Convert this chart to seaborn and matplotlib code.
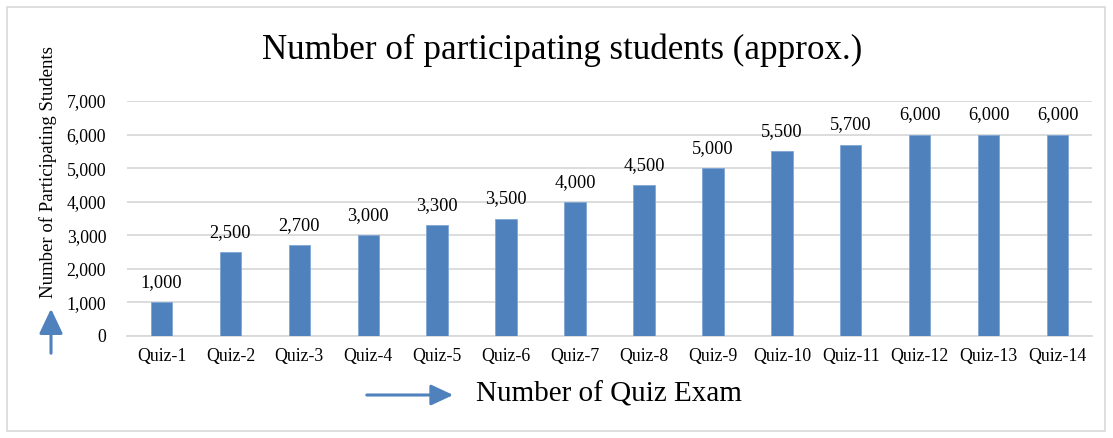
import matplotlib
matplotlib.use("Agg")
import matplotlib.pyplot as plt
import matplotlib.patches as mpatches
import seaborn as sns
import pandas as pd

quizzes = [f"Quiz-{i}" for i in range(1, 15)]
students = [1000, 2500, 2700, 3000, 3300, 3500, 4000, 4500, 5000, 5500, 5700, 6000, 6000, 6000]
yticks = [0, 1000, 2000, 3000, 4000, 5000, 6000, 7000]

title = "Number of participating students (approx.)"
ylabel = "Number of Participating Students"
xlabel = "Number of Quiz Exam"

sns.set_theme(style="white")
plt.rcParams['font.family'] = ['Liberation Serif', 'DejaVu Serif']
plt.rcParams['text.color'] = 'black'
plt.rcParams['xtick.color'] = 'black'
plt.rcParams['ytick.color'] = 'black'

BLUE = "#4F81BD"
GRID = "#D9D9D9"

fig = plt.figure(figsize=(11.13, 4.38), dpi=100)
ax = fig.add_axes([127/1113, 1-336/438, (1092-127)/1113, (336-101)/438])

df = pd.DataFrame({"quiz": quizzes, "students": students})
sns.barplot(data=df, x="quiz", y="students", color=BLUE, saturation=1, width=0.31,
            ax=ax, zorder=3, edgecolor="#7FA6D6", linewidth=0.6)

ax.set_ylim(0, 7000)
ax.set_xlim(-0.5, len(quizzes)-0.5)
ax.set_yticks(yticks)
ax.set_yticklabels([f"{v:,}" for v in yticks], fontsize=12.8)
ax.tick_params(axis='y', length=0, pad=15)
ax.tick_params(axis='x', length=0, pad=9, labelsize=12.8)
ax.set_xlabel("")
ax.set_ylabel("")
ax.grid(axis='y', color=GRID, linewidth=1.3, zorder=0)
ax.grid(axis='x', visible=False)
for s in ["top", "right", "left"]:
    ax.spines[s].set_visible(False)
ax.spines["bottom"].set_color(GRID)
ax.spines["bottom"].set_linewidth(1.3)

for cont in ax.containers:
    ax.bar_label(cont, labels=[f"{v:,}" for v in students], padding=8, fontsize=13.2)

fig.text(562/1113, 1-50/438, title, ha='center', va='center', fontsize=25.2)
fig.text(48/1113, 1-172/438, ylabel, rotation=90, ha='center', va='center', fontsize=13.5)
fig.text(476/1113, 1-395/438, xlabel, ha='left', va='center', fontsize=21)

# arrows
fig.add_artist(mpatches.FancyArrowPatch((51/1113, 1-356/438), (51/1113, 1-306/438),
               transform=fig.transFigure, arrowstyle='-|>,head_length=0.8,head_width=0.38',
               mutation_scale=19, color=BLUE, linewidth=2.2))
fig.add_artist(mpatches.FancyArrowPatch((364/1113, 1-395/438), (456/1113, 1-395/438),
               transform=fig.transFigure, arrowstyle='-|>,head_length=0.75,head_width=0.35',
               mutation_scale=18, color=BLUE, linewidth=2.2))

# border
fig.add_artist(mpatches.Rectangle((7/1113, 1-431/438), (1105-7)/1113, (431-7)/438,
               transform=fig.transFigure, fill=False, edgecolor=GRID, linewidth=1.2))

fig.savefig("out.png", dpi=100)
